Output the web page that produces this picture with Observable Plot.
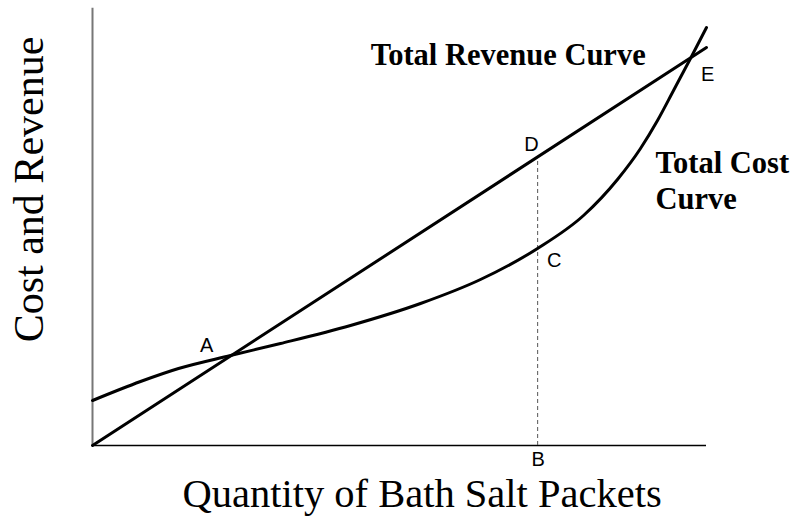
<!DOCTYPE html>
<html>
<head>
<meta charset="utf-8">
<script src="https://cdn.jsdelivr.net/npm/d3@7"></script>
<script src="https://cdn.jsdelivr.net/npm/@observablehq/plot@0.6"></script>
<style>
  html, body { margin: 0; padding: 0; background: #fff; }
  #chart svg { display: block; }
</style>
</head>
<body>
<div id="chart"></div>
<script>
// Total cost curve (quantity, cost)
const costX = [0, 7.82, 14.01, 22.48, 30.62, 42.02, 53.42, 63.19, 72.48, 79.97, 85.50, 89.25, 92.02, 94.63, 97.39, 100];
const costY = [10.34, 14.71, 17.70, 20.69, 23.45, 27.59, 32.64, 38.16, 45.29, 52.87, 61.15, 68.28, 74.71, 81.61, 88.97, 96.09];
// Total revenue line (quantity, revenue)
const revX = [0, 100];
const revY = [0, 91.5];
// Quantity at point B
const qB = 72.5;
// Point labels
const ptNames = ["A", "D", "C", "E", "B"];
const ptX = [18.6, 71.5, 75.2, 100.2, 72.6];
const ptY = [21.4, 67.8, 41.1, 83.7, -4.6];

const cost = costX.map((x, i) => ({x, y: costY[i]}));
const rev = revX.map((x, i) => ({x, y: revY[i]}));
const pts = ptNames.map((n, i) => ({n, x: ptX[i], y: ptY[i]}));
const revAtB = revY[0] + (revY[1] - revY[0]) * (qB - revX[0]) / (revX[1] - revX[0]);

const serif = "'Liberation Serif', 'Times New Roman', serif";
const sans = "'Liberation Sans', Arial, sans-serif";

const chart = Plot.plot({
  width: 796,
  height: 517,
  marginLeft: 92,
  marginRight: 90,
  marginTop: 10,
  marginBottom: 72,
  x: {domain: [0, 100], axis: null},
  y: {domain: [0, 100], axis: null},
  style: {background: "#fff", overflow: "visible"},
  marks: [
    Plot.ruleX([0], {y1: 0, y2: 100.5, stroke: "#777", strokeWidth: 2}),
    Plot.ruleY([0], {x1: 0, x2: 100, stroke: "#000", strokeWidth: 1.5}),
    Plot.ruleX([qB], {y1: 0, y2: revAtB, stroke: "#555", strokeWidth: 1, strokeDasharray: "4,3"}),
    Plot.line(rev, {x: "x", y: "y", stroke: "#000", strokeWidth: 3}),
    Plot.line(cost, {x: "x", y: "y", stroke: "#000", strokeWidth: 3, curve: "monotone-x"}),
    Plot.text(pts, {x: "x", y: "y", text: "n", fontFamily: sans, fontSize: 20, fill: "#000", textAnchor: "middle", lineAnchor: "bottom"}),
    Plot.text(["Total Revenue Curve"], {x: 45.3, y: 87.4, text: d => d, fontFamily: serif, fontWeight: "bold", fontSize: 30.5, fill: "#000", textAnchor: "start", lineAnchor: "bottom"}),
    Plot.text(["Total Cost\nCurve"], {x: 91.7, y: 54.3, text: d => d, fontFamily: serif, fontWeight: "bold", fontSize: 30.5, lineHeight: 1.18, fill: "#000", textAnchor: "start", lineAnchor: "bottom"}),
    Plot.text(["Quantity of Bath Salt Packets"], {x: 14.66, y: -14.25, text: d => d, fontFamily: serif, fontSize: 40.5, fill: "#000", textAnchor: "start", lineAnchor: "bottom"}),
    Plot.text(["Cost and Revenue"], {x: -8.14, y: 58.85, text: d => d, fontFamily: serif, fontSize: 42, fill: "#000", rotate: -90, textAnchor: "middle", lineAnchor: "bottom"})
  ]
});
document.getElementById("chart").append(chart);
</script>
</body>
</html>
